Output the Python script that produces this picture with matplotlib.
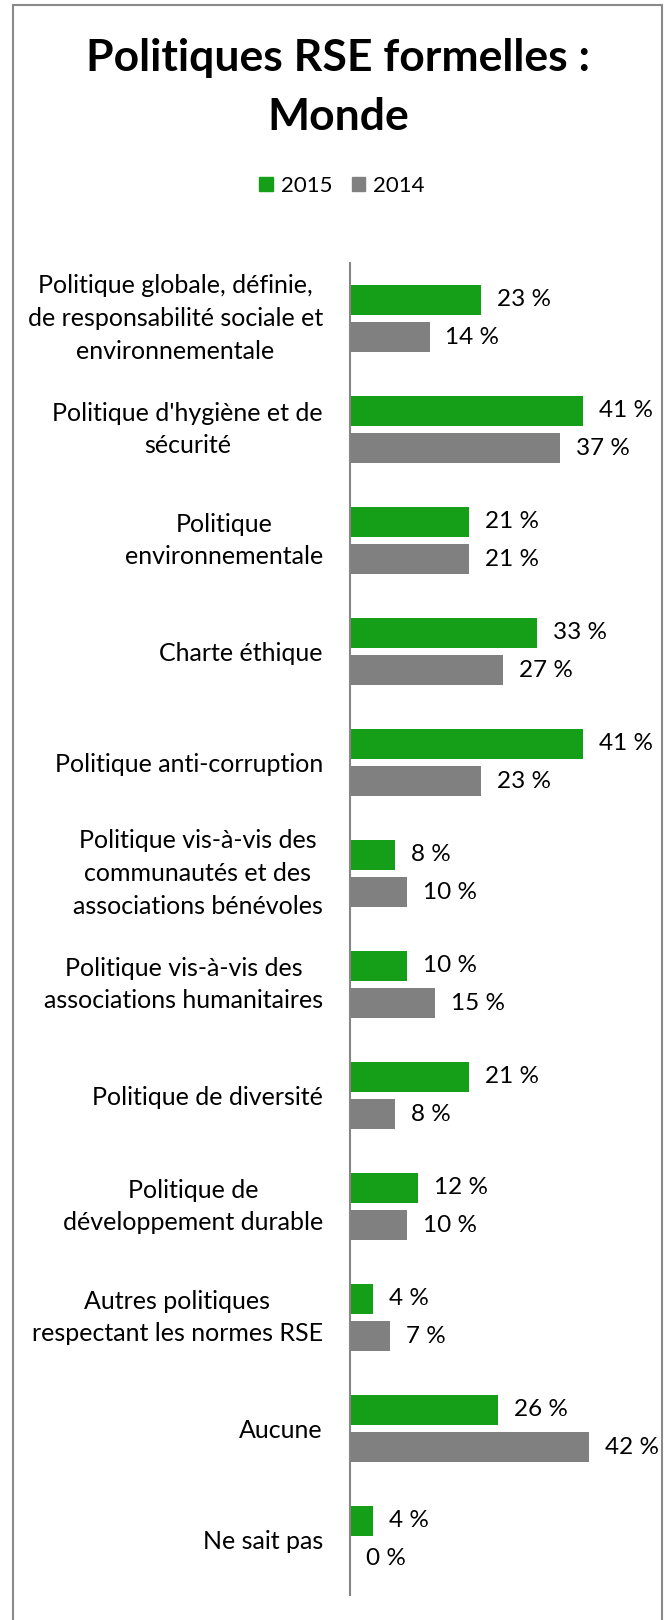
import matplotlib.pyplot as plt
from matplotlib.patches import Rectangle, Patch

plt.rcParams['font.family'] = ['Lato', 'DejaVu Sans']

categories = [
    "Politique globale, définie,\nde responsabilité sociale et\nenvironnementale",
    "Politique d'hygiène et de\nsécurité",
    "Politique\nenvironnementale",
    "Charte éthique",
    "Politique anti-corruption",
    "Politique vis-à-vis des\ncommunautés et des\nassociations bénévoles",
    "Politique vis-à-vis des\nassociations humanitaires",
    "Politique de diversité",
    "Politique de\ndéveloppement durable",
    "Autres politiques\nrespectant les normes RSE",
    "Aucune",
    "Ne sait pas",
]
v2015 = [23, 41, 21, 33, 41, 8, 10, 21, 12, 4, 26, 4]
v2014 = [14, 37, 21, 27, 23, 10, 15, 8, 10, 7, 42, 0]
series_names = ["2015", "2014"]

green = '#159e18'
grey = '#808080'
W, H = 668, 1620

fig = plt.figure(figsize=(W / 100, H / 100), dpi=100)

# outer frame (open at the bottom, like the original crop)
fig.patches.append(Rectangle((13 / W, -0.01), (662 - 13) / W, 1.01 - 5 / H,
                             transform=fig.transFigure, fill=False,
                             edgecolor='#8a8a8a', lw=1.5, clip_on=False))

ax = fig.add_axes([350 / W, 1 - 1595 / H, (648 - 350) / W, (1595 - 263) / H])

y = list(range(len(categories)))
h = 0.27
off = 0.17
b1 = ax.barh([i - off for i in y], v2015, height=h, color=green, label=series_names[0])
b2 = ax.barh([i + off for i in y], v2014, height=h, color=grey, label=series_names[1])

for bars, vals in ((b1, v2015), (b2, v2014)):
    for rect, v in zip(bars, vals):
        ax.annotate(f"{v} %", (v, rect.get_y() + rect.get_height() / 2),
                    xytext=(11.5, 0), textcoords='offset points',
                    va='center', ha='left', fontsize=17.5, color='black')

ax.set_xlim(0, 298 / 5.68)
ax.set_ylim(len(categories) - 0.5, -0.5)
ax.set_xticks([])
ax.set_yticks(y)
ax.set_yticklabels(categories, fontsize=18, linespacing=1.52)
for lbl in ax.get_yticklabels():
    lbl.set_multialignment('center')
    if '\n' in lbl.get_text():
        lbl.set_va('center')
ax.tick_params(axis='y', length=0, pad=19.5)
for s in ('top', 'right', 'bottom'):
    ax.spines[s].set_visible(False)
ax.spines['left'].set_color('#868686')
ax.spines['left'].set_linewidth(1.5)

fig.text(338 / W, 1 - 71 / H, "Politiques RSE formelles :", ha='center', va='baseline',
         fontsize=32, fontweight='bold')
fig.text(338 / W, 1 - 130 / H, "Monde", ha='center', va='baseline',
         fontsize=32, fontweight='bold')

handles = [Patch(color=green), Patch(color=grey)]
fig.legend(handles, series_names, loc='center', bbox_to_anchor=(342 / W, 1 - 186 / H),
           ncol=2, frameon=False, fontsize=16, handlelength=0.6, handleheight=0.6,
           handletextpad=0.35, columnspacing=0.9)

fig.savefig('out.png', dpi=100)
